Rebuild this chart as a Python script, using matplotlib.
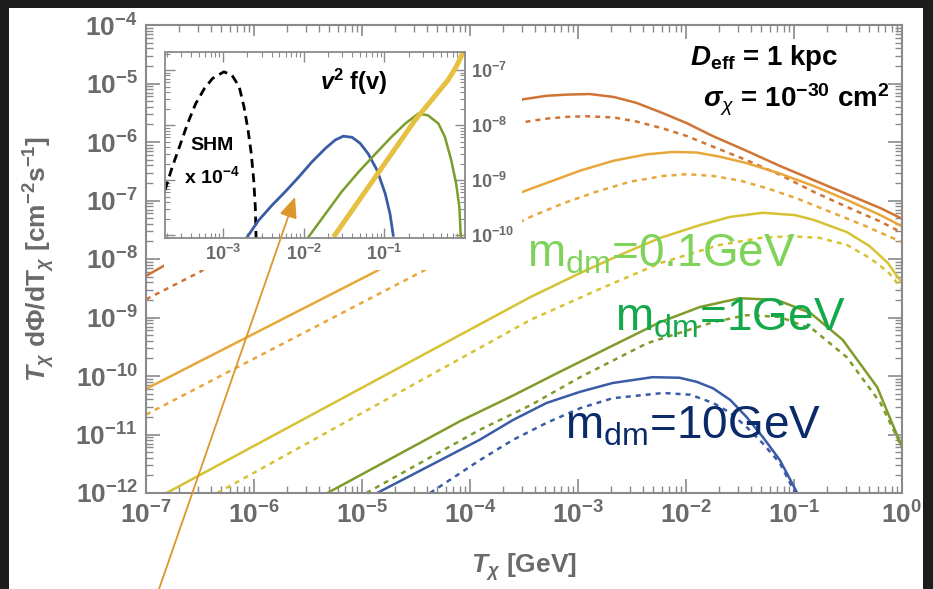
import numpy as np
import matplotlib
matplotlib.use("Agg")
import matplotlib.pyplot as plt
from matplotlib.patches import Rectangle, FancyArrowPatch
from matplotlib.ticker import LogLocator, FuncFormatter, NullFormatter, FixedLocator

plt.rcParams['font.family'] = ['Liberation Sans', 'DejaVu Sans']
plt.rcParams['mathtext.fontset'] = 'custom'
plt.rcParams['mathtext.rm'] = 'Liberation Sans'
plt.rcParams['mathtext.it'] = 'Liberation Sans:italic'
plt.rcParams['mathtext.bf'] = 'Liberation Sans:bold'
plt.rcParams['mathtext.bfit'] = 'Liberation Sans:bold:italic'
plt.rcParams['mathtext.sf'] = 'Liberation Sans'

# ---- boosted DM flux, log10(T_chi / GeV) vs log10(T dPhi/dT / cm^-2 s^-1) ----
# dark orange pair
orange_T = [-7.0, -6.82, -3.51, -3.29, -3.10, -2.89, -2.67, -2.46, -2.21, -1.99,
            -1.75, -1.44, -1.13, -0.82, -0.51, -0.20, 0.01]
orange_F = [-8.29, -8.10, -5.27, -5.21, -5.19, -5.18, -5.23, -5.33, -5.51, -5.68,
            -5.90, -6.15, -6.41, -6.65, -6.89, -7.13, -7.32]
orange_d_T = [-7.0, -6.50, -6.0, -3.47, -3.29, -3.10, -2.92, -2.67, -2.46, -2.21,
              -1.99, -1.75, -1.44, -1.13, -0.82, -0.51, -0.20, 0.01]
orange_d_F = [-8.69, -8.22, -7.60, -5.65, -5.60, -5.57, -5.56, -5.58, -5.65, -5.77,
              -5.90, -6.08, -6.31, -6.56, -6.85, -7.11, -7.36, -7.56]
# orange-yellow pair
amber_T = [-7.0, -4.88, -3.51, -3.29, -2.98, -2.67, -2.36, -2.12, -1.90, -1.69,
           -1.44, -1.13, -0.82, -0.51, -0.20, 0.01]
amber_F = [-10.22, -8.22, -6.85, -6.70, -6.49, -6.32, -6.21, -6.17, -6.18, -6.25,
           -6.36, -6.54, -6.75, -6.99, -7.25, -7.45]
amber_d_T = [-7.0, -4.44, -3.44, -3.14, -2.83, -2.52, -2.21, -1.99, -1.75, -1.50,
             -1.25, -0.98, -0.67, -0.36, 0.01]
amber_d_F = [-10.66, -8.21, -7.28, -7.05, -6.85, -6.68, -6.58, -6.55, -6.58, -6.66,
             -6.79, -6.96, -7.19, -7.42, -7.72]
# gold pair
gold_T = [-6.81, -3.44, -2.98, -2.61, -2.24, -1.87, -1.59, -1.29, -0.99, -0.82,
          -0.51, -0.30, -0.13, 0.01]
gold_F = [-12.0, -8.65, -8.24, -7.93, -7.64, -7.42, -7.28, -7.21, -7.25, -7.33,
          -7.54, -7.78, -8.07, -8.44]
gold_d_T = [-6.34, -3.44, -2.82, -2.24, -1.69, -1.31, -1.04, -0.76, -0.51, -0.30,
            -0.13, 0.01]
gold_d_F = [-12.0, -9.04, -8.53, -8.07, -7.76, -7.64, -7.61, -7.64, -7.76, -7.98,
            -8.22, -8.53]
# olive pair
olive_T = [-5.32, -4.09, -3.63, -3.17, -2.70, -2.24, -1.87, -1.50, -1.16, -0.85,
           -0.55, -0.23, 0.01]
olive_F = [-12.0, -10.77, -10.36, -9.93, -9.50, -9.08, -8.82, -8.67, -8.70, -8.92,
           -9.38, -10.19, -11.26]
olive_d_T = [-4.96, -3.91, -3.44, -2.98, -2.36, -1.75, -1.44, -1.13, -0.82, -0.51,
             -0.20, 0.01]
olive_d_F = [-12.0, -10.92, -10.50, -10.02, -9.44, -9.08, -8.96, -8.99, -9.21, -9.68,
             -10.46, -11.26]
# blue pair
blue_T = [-4.86, -3.91, -3.60, -3.29, -2.98, -2.68, -2.31, -2.06, -1.90, -1.75,
          -1.59, -1.44, -1.29, -1.13, -0.97]
blue_F = [-12.0, -11.09, -10.75, -10.46, -10.27, -10.12, -10.02, -10.03, -10.10, -10.21,
          -10.41, -10.70, -11.04, -11.44, -12.0]
blue_d_T = [-4.37, -3.91, -3.60, -3.29, -2.98, -2.68, -2.21, -1.96, -1.75, -1.59,
            -1.44, -1.29, -1.13, -0.99]
blue_d_F = [-12.0, -11.44, -11.09, -10.80, -10.55, -10.38, -10.29, -10.32, -10.46, -10.63,
            -10.87, -11.15, -11.49, -12.0]

# ---- inset: v^2 f(v), log10(v/c) vs log10 ----
shm_v = [-3.72, -3.63, -3.54, -3.44, -3.34, -3.23, -3.13, -2.99, -2.89, -2.80,
         -2.74, -2.69, -2.65, -2.62, -2.60, -2.59]
shm_f = [-9.18, -8.76, -8.39, -7.97, -7.61, -7.33, -7.15, -7.03, -7.09, -7.30,
         -7.67, -8.09, -8.52, -9.00, -9.49, -10.1]
vblue_v = [-2.70, -2.56, -2.39, -2.23, -2.06, -1.90, -1.73, -1.61, -1.51, -1.40,
           -1.30, -1.20, -1.09, -0.99, -0.93, -0.89]
vblue_f = [-10.03, -9.73, -9.45, -9.21, -8.94, -8.67, -8.42, -8.27, -8.20, -8.22,
           -8.33, -8.52, -8.82, -9.24, -9.61, -10.0]
vgreen_v = [-1.94, -1.73, -1.53, -1.32, -1.11, -0.91, -0.74, -0.58, -0.46, -0.33,
            -0.25, -0.17, -0.11, -0.07, -0.05]
vgreen_f = [-10.03, -9.61, -9.21, -8.85, -8.52, -8.21, -7.97, -7.79, -7.82, -7.97,
            -8.21, -8.64, -9.06, -9.49, -10.1]
vyellow_v = [-1.63, -0.62, -0.21, -0.11, -0.02, 0.0]
vyellow_f = [-10.03, -7.91, -7.18, -6.94, -6.67, -6.60]

W, H = 933, 589


def fx(x):
    return x / W


def fy(y):
    return 1 - y / H


def p10(a):
    return np.power(10.0, a)


fig = plt.figure(figsize=(W / 100, H / 100), dpi=100, facecolor='#1d1d1d')
fig.add_artist(Rectangle((fx(9), 0), fx(923 - 9), 1 - 8 / H, transform=fig.transFigure,
                         facecolor='white', edgecolor='none', zorder=-5))

ax = fig.add_axes([fx(146), fy(493), fx(756), 468 / H])
ax.set_xscale('log')
ax.set_yscale('log')
ax.set_xlim(1e-7, 1)
ax.set_ylim(1e-12, 1e-4)

dash = (0, (2.0, 2.0))
lw = 1.8
curves = [
    (orange_T, orange_F, '#cf7435', '-'), (orange_d_T, orange_d_F, '#cf7435', dash),
    (amber_T, amber_F, '#e8a73a', '-'), (amber_d_T, amber_d_F, '#e8a73a', dash),
    (gold_T, gold_F, '#d6c233', '-'), (gold_d_T, gold_d_F, '#d6c233', dash),
    (olive_T, olive_F, '#7f9c2b', '-'), (olive_d_T, olive_d_F, '#7f9c2b', dash),
    (blue_T, blue_F, '#3a5ba6', '-'), (blue_d_T, blue_d_F, '#3a5ba6', dash),
]
for t, f, c, ls in curves:
    ax.plot(p10(t), p10(f), color=c, lw=lw, linestyle=ls, solid_joinstyle='round')

# white area behind the inset and its labels
ax.add_patch(Rectangle((fx(164), fy(270)), fx(522 - 164), (270 - 36) / H,
                       transform=fig.transFigure, facecolor='white',
                       edgecolor='none', zorder=2.2))

grey = '#8a8a8a'
tick_fmt = FuncFormatter(lambda v, pos: r'$\mathbf{10^{%d}}$' % int(round(np.log10(v))))
for axis in (ax.xaxis, ax.yaxis):
    axis.set_major_locator(LogLocator(base=10, numticks=20))
    axis.set_minor_locator(LogLocator(base=10, subs=np.arange(2, 10), numticks=20))
    axis.set_major_formatter(tick_fmt)
    axis.set_minor_formatter(NullFormatter())
ax.tick_params(which='both', direction='in', top=True, right=True, color=grey,
               labelcolor='#6a6a6a', labelsize=19)
ax.tick_params(which='major', length=10, width=1.2, pad=6)
ax.tick_params(which='minor', length=5, width=1.0)
for s in ax.spines.values():
    s.set_color(grey)
    s.set_linewidth(1.5)

ax.set_xlabel(r'$\mathbfit{T}_{\mathbfit{\chi}}$ [GeV]', fontsize=19,
              fontweight='bold', color='#6a6a6a')
ax.xaxis.set_label_coords(0.5, -0.125)
ax.set_ylabel(r'$\mathbfit{T}_{\mathbfit{\chi}}$ d$\mathbf{\Phi}$/dT$_{\mathbfit{\chi}}$ '
              r'[cm$^{\mathbf{-2}}$s$^{\mathbf{-1}}$]', fontsize=19,
              fontweight='bold', color='#6a6a6a')
ax.yaxis.set_label_coords(-0.118, 0.5)

fig.text(fx(690), fy(65), r'$\mathbfit{D}_{\mathbf{eff}}$ = 1 kpc', fontsize=20,
         fontweight='bold', color='black', ha='left', va='baseline')
fig.text(fx(890), fy(108), r'$\mathbfit{\sigma}_{\mathit{\chi}}$ = 10$^{\mathbf{-30}}$ cm$^{\mathbf{2}}$',
         fontsize=20, fontweight='bold', color='black', ha='right', va='baseline')

fig.text(fx(527), fy(267), r'm$_{\mathregular{dm}}$=0.1GeV', fontsize=33,
         color='#7fd35b', ha='left', va='baseline', zorder=5)
fig.text(fx(615), fy(330), r'm$_{\mathregular{dm}}$=1GeV', fontsize=33,
         color='#13a94b', ha='left', va='baseline', zorder=5)
fig.text(fx(565), fy(438), r'm$_{\mathregular{dm}}$=10GeV', fontsize=33,
         color='#0b2a6a', ha='left', va='baseline', zorder=5)

# inset with the velocity distributions
axi = fig.add_axes([fx(165), fy(238), fx(300), 186 / H])
axi.set_xscale('log')
axi.set_yscale('log')
axi.set_xlim(p10(-3.72), 1)
axi.set_ylim(p10(-10.05), p10(-6.67))
axi.plot(p10(shm_v), p10(shm_f), color='black', lw=2.0, linestyle=(0, (3.2, 2.0)))
axi.plot(p10(vblue_v), p10(vblue_f), color='#3a5ba6', lw=2.0, solid_joinstyle='round')
axi.plot(p10(vgreen_v), p10(vgreen_f), color='#7a9e2a', lw=1.8, solid_joinstyle='round')
axi.plot(p10(vyellow_v), p10(vyellow_f), color='#e6c040', lw=3.6, solid_capstyle='butt')

axi.xaxis.set_major_locator(FixedLocator([1e-3, 1e-2, 1e-1]))
axi.xaxis.set_minor_locator(LogLocator(base=10, subs=np.arange(2, 10), numticks=20))
axi.yaxis.set_major_locator(FixedLocator([1e-10, 1e-9, 1e-8, 1e-7]))
axi.yaxis.set_minor_locator(LogLocator(base=10, subs=np.arange(2, 10), numticks=20))
for axis in (axi.xaxis, axi.yaxis):
    axis.set_major_formatter(tick_fmt)
    axis.set_minor_formatter(NullFormatter())
axi.tick_params(which='both', direction='in', top=True, right=True, left=True,
                labelleft=False, labelright=True, color=grey,
                labelcolor='#6a6a6a', labelsize=13)
axi.tick_params(which='major', length=7, width=1.0, pad=4)
axi.tick_params(which='minor', length=3.5, width=0.8)
for s in axi.spines.values():
    s.set_color(grey)
    s.set_linewidth(1.3)

axi.text(0.63, 0.84, r'$\mathbfit{v}^{\mathbf{2}}$ f(v)', transform=axi.transAxes,
         fontsize=17, fontweight='bold', ha='center', va='center')
axi.text(0.157, 0.50, 'SHM', transform=axi.transAxes, fontsize=14,
         fontweight='bold', ha='center', va='center')
axi.text(0.157, 0.33, r'x 10$^{\mathbf{-4}}$', transform=axi.transAxes, fontsize=14,
         fontweight='bold', ha='center', va='center')

fig.add_artist(FancyArrowPatch((fx(158), fy(592)), (fx(295), fy(197)),
                               transform=fig.transFigure,
                               arrowstyle='-|>,head_length=0.7,head_width=0.3',
                               mutation_scale=18, lw=1.3, color='#db972c',
                               shrinkA=0, shrinkB=0, zorder=10))

fig.savefig('out.png', dpi=100, facecolor=fig.get_facecolor())
